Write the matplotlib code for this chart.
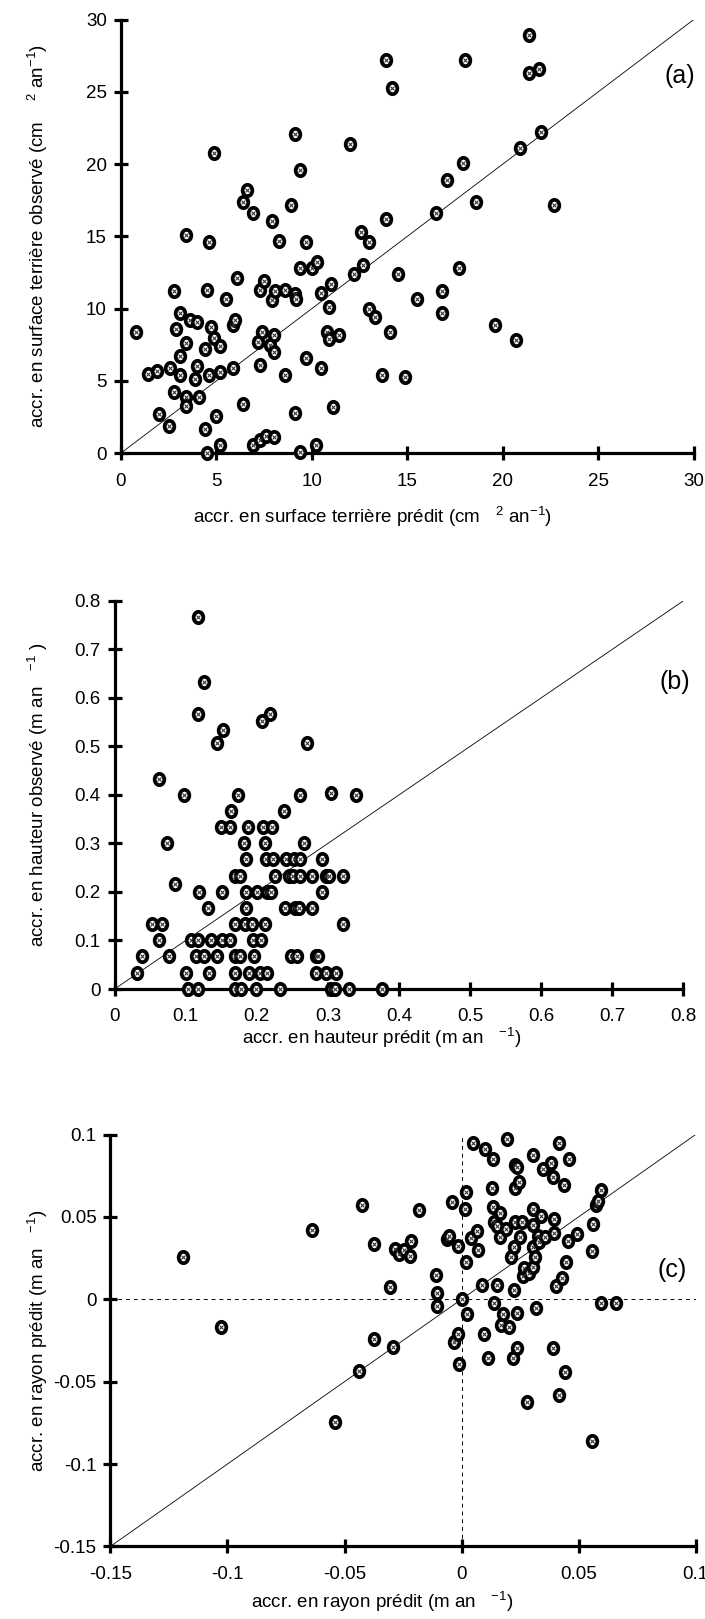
import matplotlib
matplotlib.use("Agg")
import matplotlib.pyplot as plt
from matplotlib.markers import MarkerStyle
from matplotlib.transforms import Affine2D
from matplotlib.ticker import FixedLocator, FixedFormatter

plt.rcParams['font.family'] = ['Liberation Sans', 'DejaVu Sans']
plt.rcParams['mathtext.fontset'] = 'custom'
plt.rcParams['mathtext.rm'] = 'Liberation Sans'

# ---- (a) basal area increment (cm2 / yr) ----
ba_pred = [0.8, 1.4, 1.9, 2.0, 2.5, 2.6, 2.8, 2.8, 2.9, 3.1, 3.1, 3.1, 3.4, 3.4, 3.4, 3.4,
           3.6, 3.9, 4.0, 4.0, 4.1, 4.4, 4.4, 4.5, 4.5, 4.6, 4.6, 4.7, 4.9, 4.9, 5.0, 5.2,
           5.2, 5.2, 5.5, 5.9, 5.9, 6.0, 6.1, 6.4, 6.4, 6.6, 6.9, 6.9, 7.2, 7.3, 7.3, 7.3,
           7.4, 7.5, 7.6, 7.8, 7.9, 7.9, 8.0, 8.0, 8.0, 8.1, 8.3, 8.6, 8.6, 8.9, 9.1, 9.1,
           9.1, 9.2, 9.4, 9.4, 9.4, 9.7, 9.7, 10.0, 10.2, 10.3, 10.5, 10.5, 10.8, 10.9, 10.9,
           11.0, 11.1, 11.4, 12.0, 12.2, 12.6, 12.7, 13.0, 13.0, 13.3, 13.7, 13.9, 13.9, 14.1,
           14.2, 14.5, 14.9, 15.5, 16.5, 16.8, 16.8, 17.1, 17.7, 17.9, 18.0, 18.6, 19.6, 20.7,
           20.9, 21.4, 21.4, 21.9, 22.0, 22.7]
ba_obs = [8.4, 5.5, 5.7, 2.7, 1.9, 5.9, 11.2, 4.2, 8.6, 9.7, 6.7, 5.4, 15.1, 7.6, 3.9, 3.3,
          9.2, 5.1, 9.1, 6.0, 3.9, 1.7, 7.2, 11.3, 0.0, 14.6, 5.4, 8.7, 20.8, 8.0, 2.6, 7.4,
          5.6, 0.6, 10.7, 5.9, 8.9, 9.2, 12.1, 3.4, 17.4, 18.2, 16.6, 0.6, 7.7, 0.9, 11.3, 6.1,
          8.4, 11.9, 1.2, 7.5, 16.1, 10.6, 1.1, 8.2, 7.0, 11.2, 14.7, 5.4, 11.3, 17.2, 22.1, 2.8,
          11.0, 10.7, 0.05, 19.6, 12.8, 14.6, 6.6, 12.8, 0.6, 13.2, 11.1, 5.9, 8.4, 10.1, 7.9,
          11.7, 3.2, 8.2, 21.4, 12.4, 15.3, 13.0, 10.0, 14.6, 9.4, 5.4, 16.2, 27.2, 8.4,
          25.3, 12.4, 5.3, 10.7, 16.6, 11.2, 9.7, 18.9, 12.8, 20.1, 27.2, 17.4, 8.9, 7.8,
          21.1, 28.9, 26.3, 26.6, 22.2, 17.2]

# ---- (b) height increment (m / yr) ----
h_pred = [0.032, 0.039, 0.052, 0.063, 0.063, 0.066, 0.073, 0.077, 0.085, 0.097, 0.101, 0.103,
          0.108, 0.115, 0.117, 0.117, 0.118, 0.118, 0.119, 0.126, 0.126, 0.132, 0.133, 0.135,
          0.144, 0.144, 0.150, 0.151, 0.151, 0.152, 0.163, 0.163, 0.164, 0.169, 0.169, 0.169,
          0.169, 0.169, 0.174, 0.176, 0.177, 0.178, 0.182, 0.183, 0.185, 0.185, 0.185, 0.187,
          0.189, 0.193, 0.195, 0.196, 0.199, 0.200, 0.204, 0.206, 0.207, 0.209, 0.211, 0.211,
          0.213, 0.214, 0.215, 0.219, 0.220, 0.221, 0.223, 0.225, 0.232, 0.238, 0.240, 0.241,
          0.245, 0.248, 0.251, 0.253, 0.254, 0.257, 0.259, 0.261, 0.261, 0.261, 0.266, 0.271,
          0.278, 0.278, 0.283, 0.283, 0.286, 0.292, 0.292, 0.298, 0.298, 0.302, 0.304, 0.305,
          0.310, 0.312, 0.321, 0.321, 0.329, 0.340, 0.376]
h_obs = [0.033, 0.067, 0.133, 0.433, 0.100, 0.133, 0.300, 0.067, 0.217, 0.400, 0.033, 0.000,
         0.100, 0.067, 0.100, 0.567, 0.000, 0.767, 0.200, 0.067, 0.633, 0.167, 0.033, 0.100,
         0.067, 0.507, 0.333, 0.100, 0.200, 0.533, 0.100, 0.333, 0.367, 0.033, 0.067, 0.133,
         0.000, 0.233, 0.400, 0.067, 0.233, 0.000, 0.300, 0.133, 0.167, 0.200, 0.267, 0.333,
         0.033, 0.133, 0.100, 0.067, 0.000, 0.200, 0.033, 0.100, 0.553, 0.333, 0.300, 0.133,
         0.267, 0.033, 0.200, 0.567, 0.200, 0.333, 0.267, 0.233, 0.000, 0.367, 0.167, 0.267,
         0.233, 0.067, 0.233, 0.267, 0.167, 0.067, 0.167, 0.267, 0.233, 0.400, 0.300, 0.507,
         0.233, 0.167, 0.033, 0.067, 0.067, 0.267, 0.200, 0.233, 0.033, 0.233, 0.403, 0.000,
         0.000, 0.033, 0.133, 0.233, 0.000, 0.400, 0.000]

# ---- (c) radial increment (m / yr) ----
r_obs = [-0.1190, -0.1027, -0.0641, -0.0540, -0.0437, -0.0426, -0.0376, -0.0376, -0.0307,
         -0.0294, -0.0284, -0.0269, -0.0244, -0.0219, -0.0216, -0.0183, -0.0111, -0.0103,
         -0.0103, -0.0063, -0.0053, -0.0040, -0.0031, -0.0017, -0.0016, -0.0013, 0.0000,
         0.0015, 0.0021, 0.0021, 0.0023, 0.0042, 0.0050, 0.0065, 0.0071, 0.0088, 0.0097,
         0.0099, 0.0113, 0.0132, 0.0136, 0.0136, 0.0137, 0.0137, 0.0151, 0.0151, 0.0164,
         0.0164, 0.0170, 0.0179, 0.0189, 0.0193, 0.0202, 0.0212, 0.0221, 0.0223, 0.0223,
         0.0227, 0.0227, 0.0227, 0.0237, 0.0237, 0.0237, 0.0246, 0.0250, 0.0260, 0.0261,
         0.0265, 0.0279, 0.0288, 0.0303, 0.0303, 0.0303, 0.0307, 0.0307, 0.0313, 0.0317,
         0.0326, 0.0332, 0.0338, 0.0347, 0.0357, 0.0380, 0.0389, 0.0389, 0.0393, 0.0393,
         0.0405, 0.0414, 0.0418, 0.0427, 0.0437, 0.0441, 0.0447, 0.0456, 0.0460, 0.0494,
         0.0557, 0.0557, 0.0561, 0.0574, 0.0584, 0.0595, 0.0595, 0.0660]
r_pred = [0.0259, -0.0168, 0.0422, -0.0746, -0.0438, 0.0575, 0.0337, -0.0240, 0.0072,
          -0.0289, 0.0305, 0.0274, 0.0301, 0.0263, 0.0354, 0.0543, 0.0146, 0.0040,
          -0.0039, 0.0363, 0.0384, 0.0592, -0.0257, -0.0211, 0.0322, -0.0391, 0.0000,
          0.0545, 0.0227, 0.0652, -0.0092, 0.0373, 0.0947, 0.0416, 0.0301, 0.0087, -0.0211,
          0.0915, -0.0359, 0.0673, 0.0853, 0.0560, 0.0469, -0.0021, 0.0087, 0.0444, 0.0376,
          0.0522, -0.0155, -0.0092, 0.0429, 0.0970, -0.0166, 0.0259, -0.0359, 0.0316, 0.0057,
          0.0673, 0.0469, 0.0815, 0.0800, -0.0294, -0.0081, 0.0713, 0.0380, 0.0469, 0.0142,
          0.0189, -0.0625, 0.0157, 0.0193, 0.0320, 0.0448, 0.0550, 0.0873, 0.0259, -0.0051,
          0.0384, 0.0348, 0.0503, 0.0788, 0.0380, 0.0826, 0.0745, -0.0296, 0.0486, 0.0401,
          0.0082, 0.0947, -0.0582, 0.0129, 0.0692, -0.0444, 0.0227, 0.0354, 0.0853, 0.0397,
          0.0295, -0.0863, 0.0454, 0.0575, 0.0596, -0.0021, 0.0662, -0.0021]

ticks_a = [0, 5, 10, 15, 20, 25, 30]
ticks_b = [0, 0.1, 0.2, 0.3, 0.4, 0.5, 0.6, 0.7, 0.8]
ticks_c = [-0.15, -0.1, -0.05, 0, 0.05, 0.1]
labels_a = ['0', '5', '10', '15', '20', '25', '30']
labels_b = ['0', '0.1', '0.2', '0.3', '0.4', '0.5', '0.6', '0.7', '0.8']
labels_c = ['-0.15', '-0.1', '-0.05', '0', '0.05', '0.1']

W, H = 705, 1619
fig = plt.figure(figsize=(W / 100, H / 100), dpi=100)

def px_axes(l, r, t, b):
    return fig.add_axes([l / W, 1 - b / H, (r - l) / W, (b - t) / H])

ring = MarkerStyle('o', transform=Affine2D().scale(1.0, 1.18))
TICKFONT = ['Liberation Sans Narrow', 'Liberation Sans']

def style(ax, ticks, labels):
    lo, hi = ticks[0], ticks[-1]
    ax.set_xlim(lo, hi)
    ax.set_ylim(lo, hi)
    for s in ('top', 'right'):
        ax.spines[s].set_visible(False)
    for s in ('left', 'bottom'):
        ax.spines[s].set_linewidth(2.3)
    ax.xaxis.set_major_locator(FixedLocator(ticks))
    ax.yaxis.set_major_locator(FixedLocator(ticks))
    ax.xaxis.set_major_formatter(FixedFormatter(labels))
    ax.yaxis.set_major_formatter(FixedFormatter(labels))
    ax.tick_params(direction='inout', length=10, width=2.3, labelsize=13.5)
    ax.tick_params(axis='x', pad=9)
    ax.tick_params(axis='y', pad=5)
    for t in ax.get_xticklabels() + ax.get_yticklabels():
        t.set_family(TICKFONT)
    ax.plot([lo, hi], [lo, hi], color='black', lw=0.6, zorder=1)

def points(ax, x, y):
    ax.scatter(x, y, s=48, marker=ring, facecolor='white', edgecolor='black',
               linewidths=2.7, zorder=3, clip_on=False)
    ax.scatter(x, y, s=8, marker='x', color='0.2', linewidths=0.8,
               zorder=4, clip_on=False)

LABEL = 13.5
SUP2 = r'$\mathregular{^{2}}$'
SUPM1 = r'$\mathregular{^{-1}}$'

# panel (a)
ax1 = px_axes(120.8, 693.7, 19.6, 453.2)
style(ax1, ticks_a, labels_a)
points(ax1, ba_pred, ba_obs)
ax1.set_xlabel('accr. en surface terrière prédit (cm   ' + SUP2 + ' an' + SUPM1 + ')',
               fontsize=LABEL, labelpad=11)
ax1.xaxis.label.set_x(0.44)
ax1.set_ylabel('accr. en surface terrière observé (cm    ' + SUP2 + ' an' + SUPM1 + ')',
               fontsize=LABEL)
ax1.yaxis.set_label_coords(-0.124, 0.5)
ax1.text(0.975, 0.87, '(a)', transform=ax1.transAxes, fontsize=18, ha='center', va='center')

# panel (b)
ax2 = px_axes(114.6, 683.4, 600.8, 989.0)
style(ax2, ticks_b, labels_b)
points(ax2, h_pred, h_obs)
ax2.set_xlabel('accr. en hauteur prédit (m an   ' + SUPM1 + ')', fontsize=LABEL, labelpad=0)
ax2.xaxis.label.set_x(0.47)
ax2.set_ylabel('accr. en hauteur observé (m an   ' + SUPM1 + ' )', fontsize=LABEL)
ax2.yaxis.set_label_coords(-0.114, 0.5)
ax2.text(0.985, 0.79, '(b)', transform=ax2.transAxes, fontsize=18, ha='center', va='center')

# panel (c)
ax3 = px_axes(110.4, 695.7, 1134.5, 1546.4)
style(ax3, ticks_c, labels_c)
ax3.axhline(0, color='black', lw=0.7, ls=(0, (4, 4)), zorder=1)
ax3.axvline(0, color='black', lw=0.7, ls=(0, (4, 4)), zorder=1)
points(ax3, r_obs, r_pred)
ax3.set_xlabel('accr. en rayon prédit (m an   ' + SUPM1 + ')', fontsize=LABEL, labelpad=5)
ax3.xaxis.label.set_x(0.465)
ax3.set_ylabel('accr. en rayon prédit (m an   ' + SUPM1 + ')', fontsize=LABEL)
ax3.yaxis.set_label_coords(-0.104, 0.5)
ax3.text(0.96, 0.67, '(c)', transform=ax3.transAxes, fontsize=18, ha='center', va='center')

fig.savefig('out.png', dpi=100)
